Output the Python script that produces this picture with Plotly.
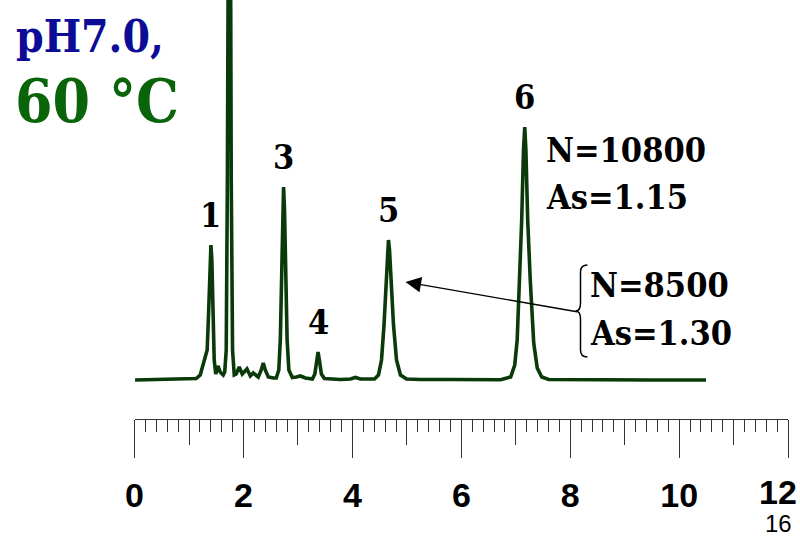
import plotly.graph_objects as go

# ---------------- data ----------------
time_min = [0.009, 0.469, 0.837, 1.021, 1.131, 1.205, 1.260, 1.306, 1.333, 1.361,
            1.383, 1.402, 1.419, 1.443, 1.462, 1.490, 1.530, 1.572, 1.628, 1.655,
            1.683, 1.704, 1.725, 1.738, 1.753, 1.775, 1.799, 1.830, 1.866, 1.922,
            1.977, 2.064, 2.125, 2.179, 2.271, 2.326, 2.363, 2.400, 2.455, 2.548,
            2.602, 2.648, 2.676, 2.703, 2.721, 2.736, 2.753, 2.773, 2.801, 2.833,
            2.896, 2.970, 3.044, 3.136, 3.265, 3.310, 3.343, 3.369, 3.393, 3.430,
            3.485, 3.595, 3.779, 3.963, 4.055, 4.148, 4.331, 4.405, 4.478, 4.534,
            4.580, 4.616, 4.644, 4.662, 4.681, 4.712, 4.754, 4.809, 4.882, 4.994,
            5.251, 5.802, 6.354, 6.722, 6.905, 6.980, 7.025, 7.071, 7.108, 7.141,
            7.164, 7.185, 7.218, 7.265, 7.329, 7.393, 7.476, 7.604, 7.825, 8.561,
            9.480, 10.492]
signal = [0, 0.5, 0.5, 1, 1.5, 5, 15, 23, 30, 70,
          120, 135, 120, 60, 20, 6, 14, 8, 5, 8,
          30, 200, 600, 700, 600, 200, 30, 5, 6, 13,
          6, 11, 4, 7, 3, 10, 17, 10, 3, 2,
          2, 10, 40, 110, 170, 193, 170, 110, 40, 10,
          2.5, 3, 4, 2, 1, 6, 20, 28, 20, 6,
          1.5, 1, 0.5, 1, 2.5, 1, 0.5, 1, 5, 20,
          55, 100, 130, 140, 130, 100, 55, 20, 5, 1,
          0.5, 0.5, 0.3, 0.3, 3, 15, 40, 100, 160, 230,
          253, 230, 160, 100, 37, 12, 3, 0.5, 0.3, 0.3,
          0, 0]

peak_labels = ["1", "3", "4", "5", "6"]
peak_times = [1.402, 2.736, 3.369, 4.662, 7.164]
peak_heights = [135, 193, 28, 140, 253]

tick_values = [0, 2, 4, 6, 8, 10, 12]
tick_labels = ["0", "2", "4", "6", "8", "10", "12"]
extra_label = "16"

title_line1 = "pH7.0,"
title_line2 = "60 °C"
peak6_info = ["N=10800", "As=1.15"]
peak5_info = ["N=8500", "As=1.30"]

# ---------------- layout helpers ----------------
W, H = 800, 539
PLOT_BOTTOM = 419           # pixel row of the time axis line
X0_PX, X12_PX = 127, 788    # pixel columns of 0 and 12 min


def paper(xp, yp):
    return xp / W, 1 - yp / PLOT_BOTTOM


SERIF = "DejaVu Serif Condensed, DejaVu Serif, serif"
SANS = "Liberation Sans Narrow, Arial Narrow, Liberation Sans, sans-serif"
LINE_COLOR = "#0a3a0a"

fig = go.Figure()
fig.add_trace(go.Scatter(x=time_min, y=signal, mode="lines",
                         line=dict(color=LINE_COLOR, width=3.6),
                         hoverinfo="skip", showlegend=False))
# helper trace so that the second (mid-tick) axis is drawn
fig.add_trace(go.Scatter(x=[0, 12], y=[-39, -39], xaxis="x2", mode="lines",
                         line=dict(width=0), hoverinfo="skip", showlegend=False))

# the last tick label sits left of its tick in the reference: drawn separately
axis_ticktext = tick_labels[:-1] + [""]

dom = [X0_PX / W, X12_PX / W]
fig.update_layout(
    width=W, height=H,
    margin=dict(l=0, r=0, t=0, b=H - PLOT_BOTTOM),
    paper_bgcolor="white", plot_bgcolor="white",
    xaxis=dict(domain=dom, range=[0, 12], tickvals=tick_values, ticktext=axis_ticktext,
               ticks="outside", ticklen=38, tickwidth=1, tickcolor="#333",
               showline=True, linecolor="#333", linewidth=1,
               showgrid=False, zeroline=False,
               tickfont=dict(family=SANS, size=34, color="black", weight="bold"),
               ticklabelstandoff=8,
               minor=dict(dtick=0.2, tick0=0, ticks="outside", ticklen=12,
                          tickwidth=1, tickcolor="#333", showgrid=False)),
    xaxis2=dict(domain=dom, range=[0, 12], overlaying="x", matches="x", anchor="y",
                side="bottom", dtick=1, tick0=0, ticks="outside", ticklen=25,
                tickwidth=1, tickcolor="#333", showticklabels=False,
                showline=False, showgrid=False, zeroline=False),
    yaxis=dict(range=[-39, 380], visible=False, showgrid=False, zeroline=False),
)

annotations = []
# titles
x, y = paper(5, 37)
annotations.append(dict(xref="paper", yref="paper", x=x, y=y, text=title_line1,
                        showarrow=False, xanchor="left", yanchor="middle",
                        font=dict(family=SERIF, size=44, color="#0c0c96", weight="bold")))
x, y = paper(4, 101)
annotations.append(dict(xref="paper", yref="paper", x=x, y=y, text=title_line2,
                        showarrow=False, xanchor="left", yanchor="middle",
                        font=dict(family=SERIF, size=60, color="#0a640a", weight="bold")))
# peak numbers
for lab, t, h in zip(peak_labels, peak_times, peak_heights):
    annotations.append(dict(xref="x", yref="y", x=t, y=h + 30, text=lab,
                            showarrow=False, xanchor="center", yanchor="middle",
                            font=dict(family=SERIF, size=34, color="black", weight="bold")))
# N / As for peak 6
for txt, yp in zip(peak6_info, [150, 197]):
    x, y = paper(541, yp)
    annotations.append(dict(xref="paper", yref="paper", x=x, y=y, text=txt,
                            showarrow=False, xanchor="left", yanchor="middle",
                            font=dict(family=SERIF, size=34, color="black", weight="bold")))
# N / As for peak 5
for txt, yp in zip(peak5_info, [285, 333]):
    x, y = paper(586, yp)
    annotations.append(dict(xref="paper", yref="paper", x=x, y=y, text=txt,
                            showarrow=False, xanchor="left", yanchor="middle",
                            font=dict(family=SERIF, size=34, color="black", weight="bold")))
# arrow toward peak 5
x, y = paper(401, 282)
annotations.append(dict(xref="paper", yref="paper", x=x, y=y, text="",
                        showarrow=True, ax=173, ay=30, arrowhead=2, arrowsize=2.4,
                        arrowwidth=1.3, arrowcolor="black", standoff=0, startstandoff=0))
# last tick label (12) and the stray "16" beneath it
x, y = paper(778, 492)
annotations.append(dict(xref="paper", yref="paper", x=x, y=y, text=tick_labels[-1],
                        showarrow=False, xanchor="center", yanchor="middle",
                        font=dict(family=SANS, size=34, color="black", weight="bold")))
x, y = paper(778, 523)
annotations.append(dict(xref="paper", yref="paper", x=x, y=y, text=extra_label,
                        showarrow=False, xanchor="center", yanchor="middle", borderpad=0,
                        font=dict(family=SANS, size=24, color="black")))
fig.update_layout(annotations=annotations)

# curly brace next to the peak-5 figures
pts = [(585, 265), (578, 265), (578, 272), (578, 303), (578, 311), (573, 311),
       (578, 311), (578, 319), (578, 350), (578, 357), (585, 357)]
P = [paper(a, b) for a, b in pts]
path = (f"M {P[0][0]} {P[0][1]} Q {P[1][0]} {P[1][1]} {P[2][0]} {P[2][1]} "
        f"L {P[3][0]} {P[3][1]} Q {P[4][0]} {P[4][1]} {P[5][0]} {P[5][1]} "
        f"Q {P[6][0]} {P[6][1]} {P[7][0]} {P[7][1]} L {P[8][0]} {P[8][1]} "
        f"Q {P[9][0]} {P[9][1]} {P[10][0]} {P[10][1]}")
fig.add_shape(type="path", path=path, xref="paper", yref="paper",
              line=dict(color="black", width=1.5))

fig.write_html("out.html",
               config={"displayModeBar": False},
               post_script="document.body.style.margin='0';"
                           "document.body.style.padding='0';"
                           "document.body.style.overflow='hidden';"
                           "document.documentElement.style.overflow='hidden';")
